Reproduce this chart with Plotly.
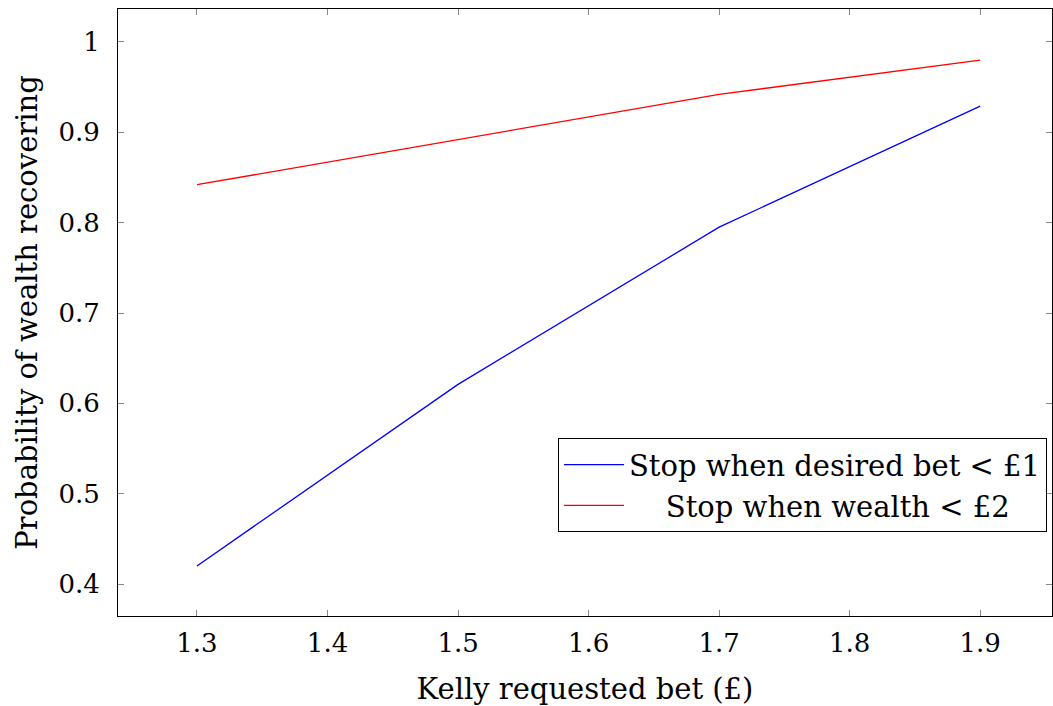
import plotly.graph_objects as go

x_vals = [1.3, 1.5, 1.7, 1.9]
blue_vals = [0.42, 0.621, 0.795, 0.929]
red_vals = [0.842, 0.892, 0.942, 0.980]
names = ["Stop when desired bet < £1", "Stop when wealth < £2"]
x_ticks = [1.3, 1.4, 1.5, 1.6, 1.7, 1.8, 1.9]
y_ticks = [0.4, 0.5, 0.6, 0.7, 0.8, 0.9, 1.0]
y_tick_text = ["0.4", "0.5", "0.6", "0.7", "0.8", "0.9", "1"]

FONT = "DejaVu Serif"

fig = go.Figure()
fig.add_trace(go.Scatter(x=x_vals, y=blue_vals, mode="lines", name=names[0],
                         line=dict(color="#0000ff", width=1.3)))
fig.add_trace(go.Scatter(x=x_vals, y=red_vals, mode="lines", name="    " + names[1],
                         line=dict(color="#ff0000", width=1.3)))

axis_common = dict(showline=True, linecolor="black", linewidth=1, mirror="ticks",
                   ticks="inside", ticklen=6, tickcolor="#888888", tickwidth=1,
                   showgrid=False, zeroline=False,
                   tickfont=dict(family=FONT, size=26, color="black"))

fig.update_layout(
    width=1053, height=706,
    margin=dict(l=118, r=1, t=9, b=90),
    paper_bgcolor="white", plot_bgcolor="white",
    font=dict(family=FONT, color="black"),
    xaxis=dict(range=[1.2395, 1.955], tickvals=x_ticks, ticklabelstandoff=4,
               title=dict(text="Kelly requested bet (£)", font=dict(family=FONT, size=29), standoff=22),
               **axis_common),
    yaxis=dict(range=[0.3646, 1.0365], tickvals=y_ticks, ticktext=y_tick_text, ticklabelstandoff=12,
               title=dict(text="Probability of wealth recovering", font=dict(family=FONT, size=29), standoff=12),
               **axis_common),
    legend=dict(x=0.9946, y=0.138, xanchor="right", yanchor="bottom",
                bordercolor="black", borderwidth=1, bgcolor="white",
                font=dict(family=FONT, size=29), tracegroupgap=0,
                itemwidth=60),
    showlegend=True,
)

fig.write_html("out.html")
